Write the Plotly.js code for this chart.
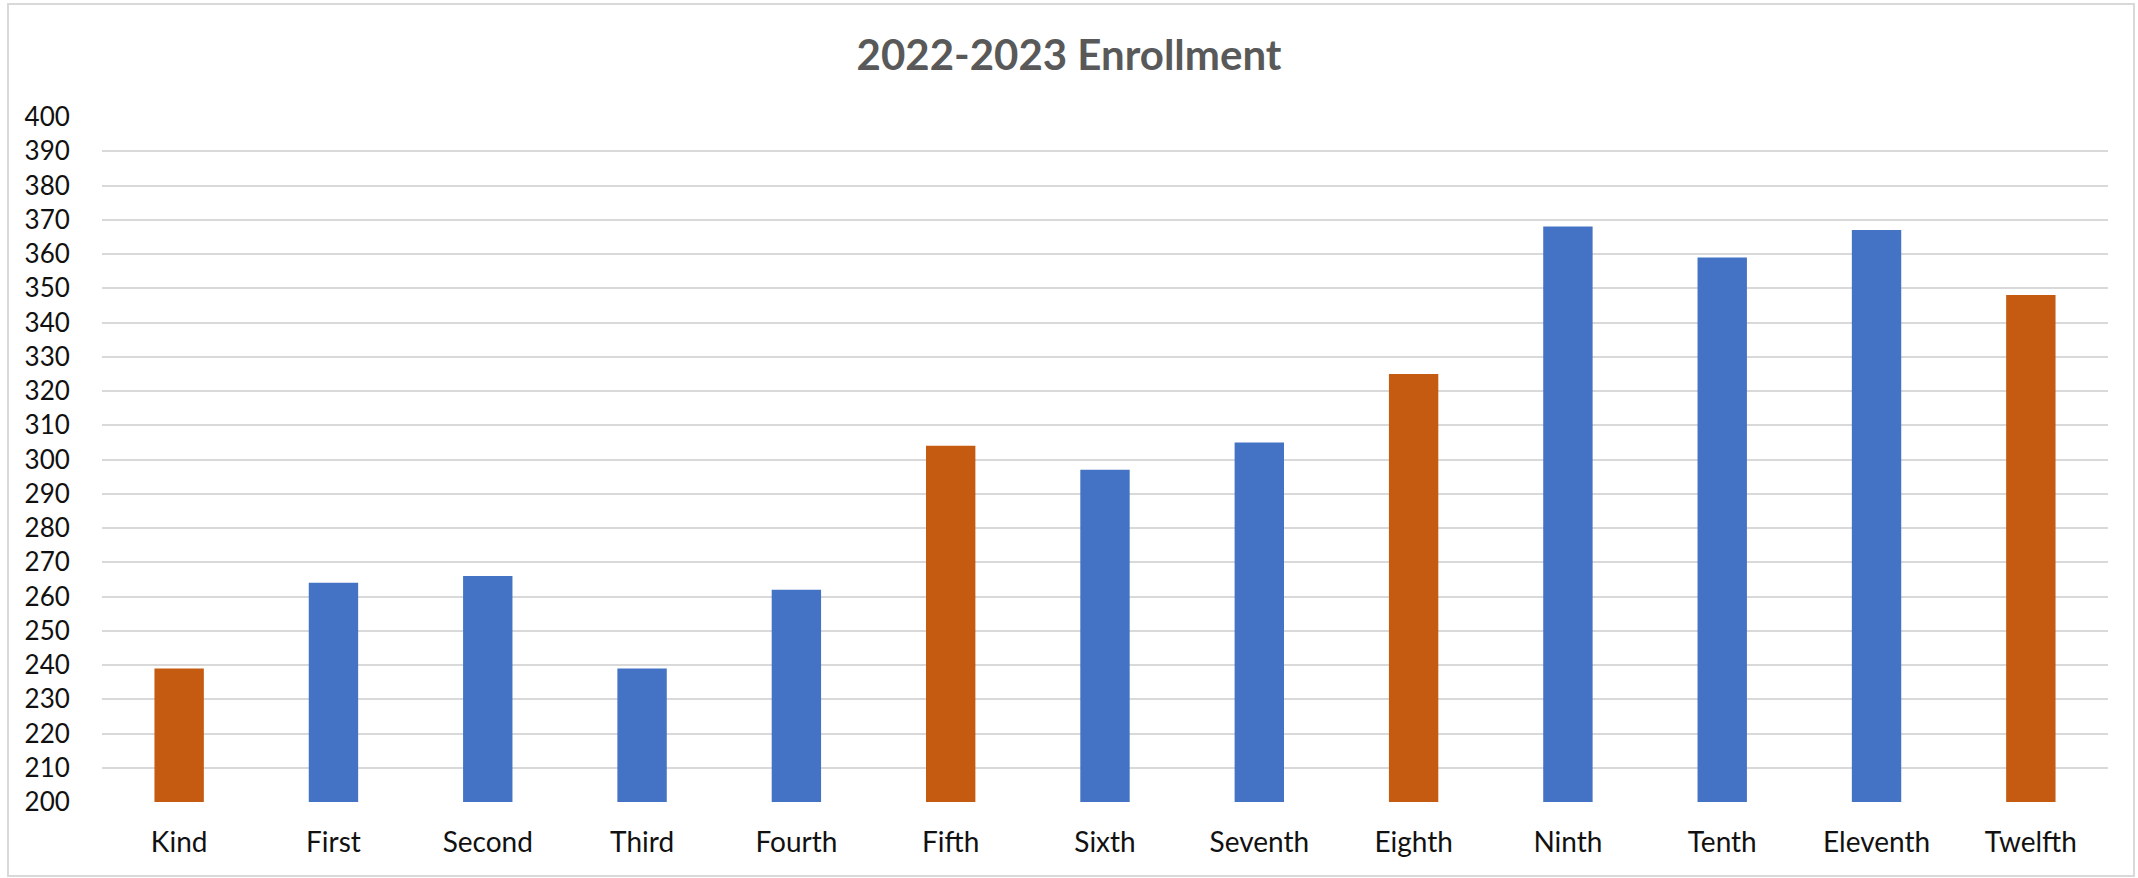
<!DOCTYPE html>
<html>
<head>
<meta charset="utf-8">
<script src="https://cdn.plot.ly/plotly-3.0.1.min.js"></script>
<style>html,body{margin:0;padding:0;background:#fff;}#chart{width:2138px;height:878px;}</style>
</head>
<body>
<div id="chart"></div>
<script>
const grades = ['Kind','First','Second','Third','Fourth','Fifth','Sixth','Seventh','Eighth','Ninth','Tenth','Eleventh','Twelfth'];
const enrollment = [239, 264, 266, 239, 262, 304, 297, 305, 325, 368, 359, 367, 348];
const highlighted = ['Kind','Fifth','Eighth','Twelfth'];
const yTicks = [200,210,220,230,240,250,260,270,280,290,300,310,320,330,340,350,360,370,380,390,400];

const BLUE = '#4472C4', ORANGE = '#C55A11';
const colors = grades.map(g => highlighted.includes(g) ? ORANGE : BLUE);
const FONT = 'Lato, "Liberation Sans", sans-serif';

const trace = {
  type: 'bar',
  x: grades,
  y: enrollment,
  marker: {color: colors},
  hoverinfo: 'x+y'
};

const layout = {
  width: 2138, height: 878,
  margin: {l: 102, r: 30, t: 117, b: 76},
  paper_bgcolor: '#ffffff', plot_bgcolor: '#ffffff',
  bargap: 0.68,
  showlegend: false,
  title: {
    text: '<b>2022-2023 Enrollment</b>',
    font: {family: FONT, size: 42, color: '#595959'},
    x: 0.5, xref: 'container', xanchor: 'center',
    y: 1 - 55/878, yref: 'container', yanchor: 'middle'
  },
  xaxis: {
    type: 'category',
    showgrid: false, zeroline: false, showline: false,
    ticks: 'outside', ticklen: 0, tickcolor: 'rgba(0,0,0,0)',
    ticklabelstandoff: 15,
    tickfont: {family: FONT, size: 28, color: '#111111'}
  },
  yaxis: {
    range: [200, 400],
    tickvals: yTicks,
    ticktext: yTicks.map(String),
    showgrid: true, gridcolor: '#d9d9d9', gridwidth: 2,
    zeroline: false, showline: false,
    ticks: 'outside', ticklen: 0, tickcolor: 'rgba(0,0,0,0)',
    ticklabelstandoff: 26,
    tickfont: {family: FONT, size: 26, color: '#111111'}
  },
  shapes: [{
    type: 'rect', xref: 'paper', yref: 'paper', layer: 'below',
    x0: (8-102)/2006, x1: (2134-102)/2006,
    y0: (802-876)/685, y1: (802-4)/685,
    line: {color: '#d9d9d9', width: 2}, fillcolor: 'rgba(0,0,0,0)'
  }]
};

Plotly.newPlot('chart', [trace], layout, {displayModeBar: false, staticPlot: true});
</script>
</body>
</html>
